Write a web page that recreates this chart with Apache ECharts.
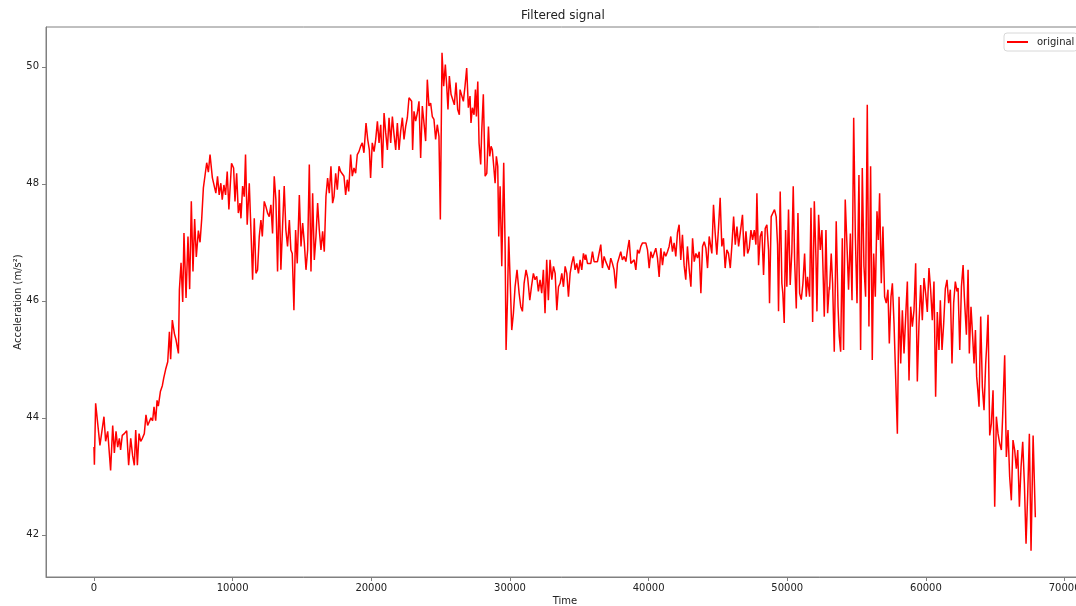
<!DOCTYPE html>
<html><head><meta charset="utf-8">
<script src="https://cdn.jsdelivr.net/npm/echarts@6/dist/echarts.min.js"></script>
<style>html,body{margin:0;padding:0;background:#fff}#c{width:1076px;height:606px}</style>
</head><body><div id="c"></div>
<script>
// Data (time, acceleration m/s²), in 8 segments
const timeA=[0,30,120,430,720,840,990,1200,1350,1470,1590,1710,1830,1920,2040,2190,2360,2500,2650,2790,2910,3010,3130,3250,3370,3490,3630,3750,3870,3990,4110,4230,4330,4450,4550,4640,4790,4930,5030,5170,5320,5440,5530,5650,5800,5920,6090,6160,6280,6400,6490,6640,6780,6900,7020,7140,7260,7380,7530,7650,7770,7890,8010,8130,8250,8370,8540];
const accelA=[43.5,43.2,44.25,43.53,44.02,43.6,43.77,43.1,43.87,43.4,43.77,43.5,43.65,43.45,43.7,43.73,43.78,43.19,43.65,43.35,43.19,43.79,43.19,43.73,43.6,43.65,43.73,44.05,43.87,43.9,44.0,43.95,44.19,43.95,44.3,44.2,44.45,44.55,44.68,44.83,44.96,45.47,45.0,45.67,45.44,45.33,45.1,46.19,46.65,45.98,47.16,46.05,47.1,46.2,47.7,46.5,47.4,46.75,47.2,47.0,47.4,47.93,47.93,48.36,48.2,48.5,48.1];
const timeB=[8670,8790,8910,9030,9150,9250,9370,9490,9610,9730,9920,10070,10170,10290,10410,10530,10600,10720,10840,10930,11050,11200,11320,11440,11560,11680,11800,11920,12040,12140,12280,12400,12520,12640,12760,12880,13000,13120,13240,13360,13480,13600,13720,13840,13960,14090,14200,14300,14420,14540,14660,14810,14930,15050,15170,15290,15410,15530,15650,15770,15890,16010,16130,16250,16370,16490,16610,16730,16850,16970,17090,17210];
const accelB=[48.07,47.84,48.13,47.81,48.01,47.73,47.98,47.81,48.21,47.56,48.35,48.27,47.70,48.18,47.50,47.67,47.41,47.96,47.78,48.50,47.30,48.01,47.21,46.36,47.41,46.47,46.53,47.10,47.38,47.10,47.70,47.61,47.50,47.44,47.64,47.15,48.13,47.73,46.50,47.90,46.53,47.27,47.96,47.21,46.93,47.38,46.87,46.81,45.84,47.21,46.64,47.81,46.93,47.33,46.99,46.53,46.87,48.33,46.50,47.84,46.70,47.10,47.67,47.21,46.87,47.19,46.84,47.78,48.10,47.84,48.30,47.67];
const timeC=[17310,17430,17550,17670,17790,17910,18030,18150,18270,18370,18510,18630,18750,18870,18990,19110,19230,19350,19470,19620,19740,19860,19950,20070,20200,20320,20440,20560,20680,20800,20920,21040,21160,21280,21400,21520,21640,21760,21880,22000,22120,22240,22360,22480,22600,22720,22840,22910,22980,23080,23200,23320,23440,23560,23680,23800,23920,24040,24160,24280,24400,24520,24640,24760,24880,24980,25100,25220,25340,25440,25530,25630,25750,25870,25990,26110,26230,26350];
const accelC=[47.78,48.18,47.90,48.30,48.21,48.18,48.13,47.81,48.07,47.87,48.50,48.13,48.27,48.18,48.50,48.55,48.64,48.70,48.53,49.04,48.76,48.58,48.10,48.70,48.55,48.76,49.07,48.70,49.01,48.27,49.21,48.87,48.58,49.13,48.70,49.15,48.84,48.58,49.04,48.58,48.90,49.13,48.76,48.98,49.13,49.47,49.50,49.41,48.58,49.24,49.07,49.21,49.41,48.44,49.33,49.04,48.73,49.78,49.33,49.38,49.15,49.10,48.76,49.01,48.81,47.39,50.24,49.67,50.04,49.67,49.27,49.84,49.53,49.53,49.35,49.73,49.27,49.18];
const timeD=[26400,26520,26640,26760,26880,27000,27120,27190,27290,27410,27510,27580,27680,27770,27890,27960,28080,28210,28330,28450,28540,28640,28730,28830,28930,29020,29120,29190,29290,29410,29550,29650,29720,29820,29910,30030,30130,30250,30370,30510,30660,30780,30900,31020,31160,31280,31430,31550,31690,31810,31930,32050,32170,32290,32410,32530,32650,32770,32890,33020,33140,33260,33380,33500,33620,33740,33860,33980,34100,34220,34340,34460,34580,34700,34820,34940,35060,35180,35300,35420];
const accelD=[49.61,49.64,49.41,49.67,49.98,49.30,49.50,49.04,49.30,49.18,49.61,49.15,49.75,48.70,48.33,48.87,49.53,48.13,48.18,48.98,48.47,48.64,48.58,48.30,48.01,48.47,48.30,47.10,47.96,46.59,48.36,46.93,45.16,46.01,47.10,46.24,45.50,45.79,46.24,46.53,46.13,45.90,45.82,46.30,46.53,46.39,46.01,46.24,46.47,46.36,46.42,46.16,46.36,46.13,46.53,45.79,46.70,46.01,46.70,46.36,46.59,46.47,45.84,46.24,46.30,46.47,46.24,46.59,46.47,46.07,46.47,46.64,46.76,46.53,46.64,46.47,46.70,46.53,46.81,46.70];
const timeE=[35470,35590,35710,35830,35950,36070,36190,36310,36430,36550,36670,36790,36910,37030,37150,37270,37390,37510,37630,37750,37870,37990,38110,38240,38360,38480,38600,38720,38840,38960,39080,39200,39320,39440,39560,39680,39800,39920,40040,40160,40280,40400,40520,40640,40760,40880,41000,41120,41240,41360,41480,41600,41720,41840,41960,42080,42200,42320,42440,42560,42680,42800,42920,43050,43170,43290,43410,43530,43650,43770,43890,44010,44130,44250,44370];
const accelE=[46.79,46.64,46.67,46.64,46.84,46.67,46.70,46.67,46.64,46.96,46.56,46.76,46.67,46.70,46.53,46.73,46.64,46.53,46.21,46.64,46.61,46.84,46.70,46.76,46.67,46.87,47.04,46.64,46.61,46.70,46.53,46.87,46.81,46.93,46.99,47.01,46.99,46.87,46.56,46.84,46.73,46.70,46.90,46.73,46.41,46.90,46.61,46.84,46.76,46.84,46.93,47.10,46.84,46.99,46.76,47.16,47.30,46.70,47.13,46.61,46.36,46.93,46.56,46.24,47.07,46.67,46.81,46.73,46.84,46.13,46.93,47.01,46.90,46.56,47.10];
const timeF=[44440,44560,44680,44800,44920,45040,45160,45280,45400,45520,45640,45760,45890,46010,46130,46250,46370,46490,46610,46770,46890,47020,47140,47260,47380,47500,47620,47740,47810,47930,48050,48170,48290,48410,48530,48650,48720,48840,48960,49080,49200,49300,49370,49490,49610,49680,49780,49880,49970,50090,50210,50330,50430,50530,50650,50770,50890,51010,51130,51250,51370,51460,51610,51710,51830,51950,52070,52140,52260,52380,52500,52670,52790,52910,53030];
const accelF=[47.13,46.81,47.64,47.16,46.79,47.24,47.76,46.93,47.07,46.56,46.87,46.81,46.56,46.96,47.44,46.96,47.27,46.93,47.16,47.47,46.76,47.19,46.81,46.90,47.21,47.04,47.21,46.96,47.84,46.61,47.10,47.19,46.44,47.24,47.30,46.87,45.96,47.44,47.47,47.56,47.44,46.96,45.82,47.87,46.30,46.13,45.62,47.21,46.24,47.56,46.27,46.84,47.96,46.70,45.87,47.50,46.13,46.02,46.30,46.81,46.07,46.41,46.07,47.59,45.64,47.70,46.73,45.82,47.47,46.87,47.21,45.73,47.21,45.79,46.24];
const timeG=[53050,53170,53270,53390,53530,53660,53750,53850,53970,54060,54180,54300,54420,54550,54670,54790,54910,55030,55170,55290,55410,55530,55650,55770,55890,56010,56130,56230,56350,56470,56570,56660,56780,56900,57020,57140,57260,57360,57480,57580,57700,57820,57940,58060,58180,58300,58420,58540,58660,58780,58900,59020,59140,59260,59380,59500,59620,59740,59860,59980,60100,60220,60340,60460,60580,60700,60820,60940,61040,61160,61280,61400,61520,61640,61760];
const accelG=[46.19,46.81,46.30,45.13,47.36,45.90,45.39,45.13,47.07,45.16,47.73,46.99,46.19,47.15,46.01,49.13,47.10,45.96,48.15,45.16,48.27,46.59,46.07,49.35,45.56,48.30,44.99,46.81,46.07,47.53,47.04,47.84,46.30,47.27,46.07,45.96,46.19,45.27,46.07,46.30,45.61,45.59,43.73,46.07,44.93,45.84,45.10,45.73,46.33,44.64,45.90,45.56,45.84,46.64,44.62,45.61,46.27,45.67,46.39,46.13,45.81,46.56,46.19,45.67,46.33,44.36,45.81,45.16,46.01,45.16,45.61,46.21,46.36,45.96,46.19];
const timeH=[61880,62000,62120,62240,62320,62440,62560,62680,62770,62840,62920,63040,63130,63250,63370,63470,63570,63660,63760,63830,63950,64070,64190,64310,64380,64480,64600,64720,64840,64960,65080,65200,65320,65440,65540,65680,65800,65920,66040,66160,66280,66400,66520,66620,66740,66860,66980,67100,67220,67340,67460,67580,67730,67890];
const accelH=[44.93,45.96,46.33,46.16,46.22,45.16,46.24,46.61,46.07,46.10,45.42,46.53,45.10,45.90,45.39,44.93,45.50,44.70,44.42,44.19,45.73,44.53,44.13,44.93,45.22,45.76,43.70,43.90,44.47,42.48,44.02,43.73,43.56,43.45,44.07,45.07,43.33,43.79,42.99,42.59,43.62,43.45,43.13,43.45,42.48,43.16,43.59,42.88,41.85,42.70,43.73,41.73,43.70,42.30];

const xTicks=[0,10000,20000,30000,40000,50000,60000,70000];
const yTicks=[42,44,46,48,50];
const seriesName='original';

const time=[].concat(timeA,timeB,timeC,timeD,timeE,timeF,timeG,timeH);
const accel=[].concat(accelA,accelB,accelC,accelD,accelE,accelF,accelG,accelH);
const n=Math.min(time.length,accel.length);
const data=[];
for(let i=0;i<n;i++) data.push([time[i],accel[i]]);

const chart=echarts.init(document.getElementById('c'),null,{renderer:'canvas'});
const axisColor='#808080';
const textColor='#222';
const font='DejaVu Sans';
chart.setOption({
  animation:false,
  backgroundColor:'#fff',
  textStyle:{fontFamily:font},
  title:{text:'Filtered signal',left:521,top:10,padding:0,
    textStyle:{fontSize:12,fontWeight:'normal',color:textColor,fontFamily:font}},
  legend:{data:[{name:seriesName,icon:'rect'}],left:1004,top:33,orient:'vertical',
    padding:[4,3,4,3],itemWidth:21,itemHeight:2,
    borderColor:'#d8d8d8',borderWidth:1,borderRadius:3,backgroundColor:'#fff',
    textStyle:{fontSize:10,color:textColor,fontFamily:font,padding:[0,0,0,4]}},
  grid:{left:46,top:27,right:-8,bottom:29,containLabel:false,outerBoundsMode:'none',
    show:true,borderColor:axisColor,borderWidth:1,backgroundColor:'transparent'},
  xAxis:{type:'value',min:-3460,max:71400,name:'Time',nameLocation:'middle',nameGap:19,nameMoveOverlap:false,
    nameTextStyle:{fontSize:10,color:textColor,fontFamily:font},
    axisLine:{show:true,onZero:false,lineStyle:{color:axisColor,width:1}},
    axisTick:{show:true,inside:false,length:4,customValues:xTicks,lineStyle:{color:axisColor}},
    axisLabel:{show:true,customValues:xTicks,fontSize:10,color:textColor,margin:6,fontFamily:font,formatter:v=>String(v)},
    splitLine:{show:false}},
  yAxis:{type:'value',min:41.28,max:50.68,name:'Acceleration (m/s²)',nameLocation:'middle',nameGap:23,nameMoveOverlap:false,
    nameTextStyle:{fontSize:10,color:textColor,fontFamily:font},
    axisLine:{show:true,onZero:false,lineStyle:{color:axisColor,width:1}},
    axisTick:{show:true,inside:false,length:4,customValues:yTicks,lineStyle:{color:axisColor}},
    axisLabel:{show:true,customValues:yTicks,fontSize:10,color:textColor,margin:7,fontFamily:font,formatter:v=>String(v)},
    splitLine:{show:false}},
  series:[{type:'line',name:seriesName,data:data,showSymbol:false,symbol:'none',
    lineStyle:{color:'#ff0000',width:1.5},itemStyle:{color:'#ff0000'},z:3}]
});
</script>
</body></html>
